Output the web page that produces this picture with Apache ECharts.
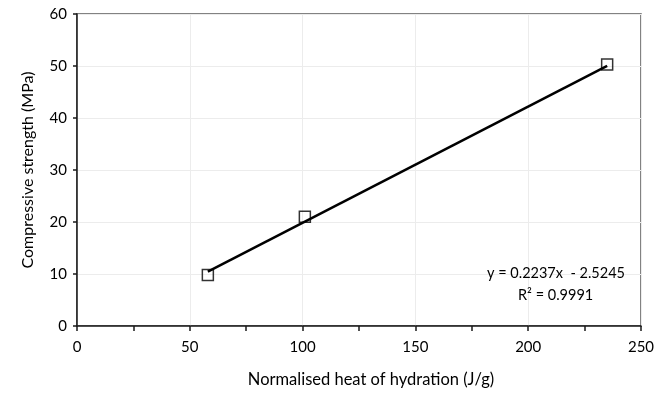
<!DOCTYPE html>
<html>
<head>
<meta charset="utf-8">
<script src="https://cdn.jsdelivr.net/npm/echarts@6/dist/echarts.min.js"></script>
<style>
  html, body { margin: 0; padding: 0; background: #fff; }
  #chart { width: 665px; height: 393px; }
</style>
</head>
<body>
<div id="chart"></div>
<script>
// Measured points: normalised heat of hydration (J/g) vs compressive strength (MPa)
const heat = [58, 101, 235];
const strength = [9.8, 21.0, 50.3];

// Linear fit reported on the chart
const slope = 0.2237;
const intercept = -2.5245;
const rSquared = 0.9991;
const fitRange = [58, 235];

const xTicks = [0, 50, 100, 150, 200, 250];
const yTicks = [0, 10, 20, 30, 40, 50, 60];

const FONT = 'Lato, "Open Sans", sans-serif';

const points = heat.map((x, i) => [x, strength[i]]);
const fitLine = fitRange.map(x => [x, slope * x + intercept]);

const chart = echarts.init(document.getElementById('chart'), null, { renderer: 'canvas' });

chart.setOption({
  animation: false,
  backgroundColor: '#ffffff',
  grid: { left: 77, right: 24, top: 14, bottom: 63, show: true, borderColor: '#595959', borderWidth: 1.5, backgroundColor: 'transparent' },
  xAxis: {
    type: 'value',
    min: xTicks[0], max: xTicks[xTicks.length - 1], interval: 50,
    name: 'Normalised heat of hydration (J/g)',
    nameLocation: 'middle', nameGap: 45,
    nameTextStyle: { fontFamily: FONT, fontSize: 16.5, color: '#000', padding: [0, 0, 0, 24] },
    axisLine: { show: true, onZero: false, lineStyle: { color: '#1a1a1a', width: 1.5 } },
    axisTick: { show: true, inside: false, length: 5, lineStyle: { color: '#1a1a1a', width: 1.5 } },
    minorTick: { show: true, splitNumber: 2, length: 5, lineStyle: { color: '#1a1a1a', width: 1.5 } },
    axisLabel: { fontFamily: FONT, fontSize: 15, color: '#000', margin: 14 },
    splitLine: { show: true, lineStyle: { color: '#ececec', width: 1 } }
  },
  yAxis: {
    type: 'value',
    min: yTicks[0], max: yTicks[yTicks.length - 1], interval: 10,
    name: 'Compressive strength (MPa)',
    nameLocation: 'middle', nameGap: 41, nameRotate: 90,
    nameTextStyle: { fontFamily: FONT, fontSize: 16, color: '#000' },
    axisLine: { show: true, onZero: false, lineStyle: { color: '#1a1a1a', width: 1.5 } },
    axisTick: { show: true, inside: false, length: 4, lineStyle: { color: '#1a1a1a', width: 1.5 } },
    axisLabel: { fontFamily: FONT, fontSize: 15, color: '#000', margin: 10 },
    splitLine: { show: true, lineStyle: { color: '#ececec', width: 1 } }
  },
  series: [
    {
      type: 'scatter',
      data: points,
      symbol: 'rect',
      symbolSize: 11,
      itemStyle: { color: 'rgba(255,255,255,0)', borderColor: '#000', borderWidth: 1.5 },
      z: 2
    },
    {
      type: 'line',
      data: fitLine,
      showSymbol: false,
      lineStyle: { color: '#000', width: 2.5 },
      z: 3
    }
  ],
  graphic: [
    {
      type: 'text', left: 487, top: 266, z: 10,
      style: {
        text: 'y = ' + slope.toFixed(4) + 'x  - ' + Math.abs(intercept).toFixed(4),
        font: '14.5px ' + FONT, fill: '#000'
      }
    },
    {
      type: 'text', left: 518, top: 288, z: 10,
      style: {
        text: 'R² = ' + rSquared.toFixed(4),
        font: '14.5px ' + FONT, fill: '#000'
      }
    }
  ]
});
</script>
</body>
</html>
